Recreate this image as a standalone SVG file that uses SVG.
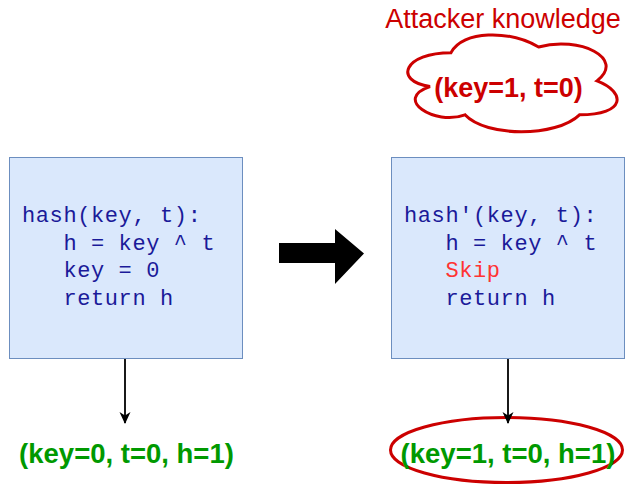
<svg xmlns="http://www.w3.org/2000/svg" width="628" height="484" viewBox="0 0 628 484">
  <defs>
    <style>
      .box { fill: #dae8fc; stroke: #6c8ebf; stroke-width: 1; }
      .code { font-family: "Liberation Mono", "Courier New", monospace; font-size: 22px; letter-spacing: 0.6px; fill: #1a1a99; }
      .skip { fill: #ff3333; }
      .result { font-family: "Liberation Sans", Arial, sans-serif; font-weight: bold; font-size: 27.5px; fill: #009900; text-anchor: middle; }
      .red { fill: none; stroke: #cc0000; stroke-width: 3; }
      .conn { stroke: #000000; stroke-width: 1.8; fill: none; }
    </style>
    <marker id="arrow" viewBox="0 0 12 12" refX="11" refY="6" markerWidth="12" markerHeight="12" markerUnits="userSpaceOnUse" orient="auto">
      <path d="M0,0.5 L12,6 L0,11.5 L3.5,6 Z" fill="#000000"/>
    </marker>
  </defs>
  <rect width="628" height="484" fill="#ffffff"/>

  <g id="attacker-knowledge">
    <text x="503" y="28" font-family="Liberation Sans, Arial, sans-serif" font-size="27" fill="#cc0000" text-anchor="middle">Attacker knowledge</text>
    <path class="red" d="M 451.0 52.65 C 404.3 52.65 392.6 80.9 430.0 86.55 C 392.6 99.0 434.6 126.1 465.0 114.8 C 486.0 137.4 556.1 137.4 579.5 114.8 C 626.2 114.8 626.2 92.2 597.0 80.9 C 626.2 58.3 579.5 35.7 538.6 47.0 C 509.4 30.05 462.7 30.05 451.0 52.65 Z"/>
    <text x="508.5" y="97" font-family="Liberation Sans, Arial, sans-serif" font-weight="bold" font-size="27" fill="#cc0000" text-anchor="middle">(key=1, t=0)</text>
  </g>

  <g id="hash-original">
    <rect class="box" x="9.5" y="157.5" width="233" height="201"/>
    <text class="code" x="22" y="222">hash(key, t):</text>
    <text class="code" x="22" y="250" xml:space="preserve">   h = key ^ t</text>
    <text class="code" x="22" y="277" xml:space="preserve">   key = 0</text>
    <text class="code" x="22" y="305" xml:space="preserve">   return h</text>
  </g>

  <g id="hash-modified">
    <rect class="box" x="391.5" y="157.5" width="233" height="201"/>
    <text class="code" x="404" y="222">hash'(key, t):</text>
    <text class="code" x="404" y="250" xml:space="preserve">   h = key ^ t</text>
    <text class="code skip" x="404" y="277" xml:space="preserve">   Skip</text>
    <text class="code" x="404" y="305" xml:space="preserve">   return h</text>
  </g>

  <g id="block-arrow">
    <path d="M279,243 L335,243 L335,229 L364,253.5 L335,284 L335,263 L279,263 Z" fill="#000000"/>
  </g>

  <g id="result-original">
    <text class="result" x="126.5" y="463">(key=0, t=0, h=1)</text>
  </g>

  <g id="result-modified">
    <ellipse class="red" cx="506.5" cy="450" rx="116" ry="32.5"/>
    <text class="result" x="508" y="463">(key=1, t=0, h=1)</text>
  </g>

  <g id="connectors">
    <line class="conn" x1="125" y1="359" x2="125" y2="423" marker-end="url(#arrow)"/>
    <line class="conn" x1="508" y1="359" x2="508" y2="423" marker-end="url(#arrow)"/>
  </g>
</svg>
